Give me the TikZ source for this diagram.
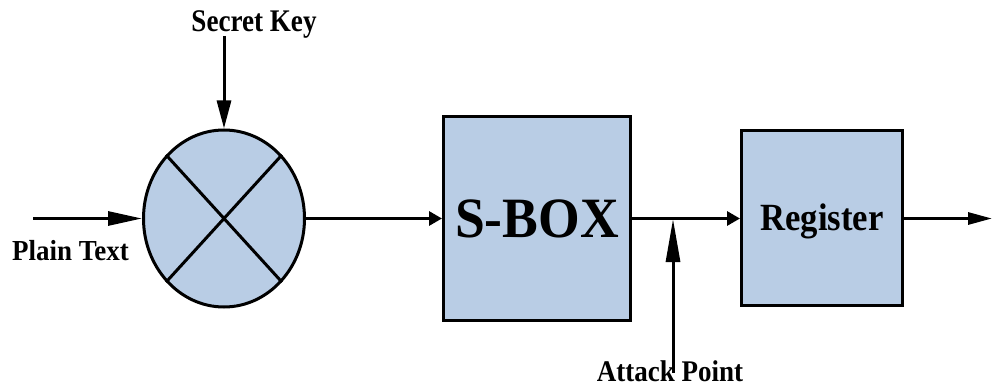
\documentclass[tikz,border=0pt]{standalone}
\usepackage{graphicx}
\usepackage{fontspec}
\setmainfont{Liberation Serif}
\usetikzlibrary{arrows.meta,shapes.geometric}
\definecolor{boxfill}{RGB}{185,205,229}
\begin{document}
\begin{tikzpicture}[x=1pt,y=-1pt,line width=3pt,
  blk/.style={draw=black,fill=boxfill,rectangle,inner sep=0pt,text depth=0pt},
  lbl/.style={font=\bfseries\fontsize{#1}{#1}\selectfont,inner sep=0pt,anchor=base},
  bigtip/.style={-{Triangle[length=#1,width=14pt]}}]
\useasboundingbox (0,0) rectangle (992,387);

% XOR-style mixer
\node[ellipse,draw=black,fill=boxfill,minimum width=161pt,minimum height=177pt,inner sep=0pt] (mix) at (224,218.5) {};
\draw (mix.north east) -- (mix.south west);
\draw (mix.north west) -- (mix.south east);

% blocks
\node[blk,minimum width=187pt,minimum height=204pt,text height=38pt,
      font=\bfseries\fontsize{57}{60}\selectfont] (sbox) at (537,218.5) {\scalebox{0.94}[1]{S-BOX}};
\node[blk,minimum width=161pt,minimum height=175pt,text height=25.5pt,
      font=\bfseries\fontsize{38.5}{42}\selectfont] (reg) at (822,218) {\scalebox{0.9}[1]{Register}};

% labels
\node[lbl=31.5] (key) at (254,31.5) {\scalebox{0.86}[1]{Secret Key}};
\node[lbl=29] (plain) at (70.5,260) {\scalebox{0.93}[1]{Plain Text}};
\node[lbl=30] (attack) at (670,381.5) {\scalebox{0.9}[1]{Attack Point}};

% free ends of the connectors
\coordinate (pin) at (33,218.5);
\coordinate (kin) at (224,36);
\coordinate (ain) at (673,373);
\coordinate (tap) at (673,219);
\coordinate (out) at (992,218.5);

% connectors
\draw[bigtip=34pt] (pin) -- (mix.west);
\draw[bigtip=28pt] (kin) -- (mix.north);
\draw[bigtip=13pt] (mix.east) -- (sbox.west);
\draw[bigtip=13pt] (sbox.east) -- (sbox.east -| reg.west);
\draw[bigtip=43pt] (ain) -- (tap);
\draw[-{Triangle[length=24pt,width=12pt]}] (reg.east |- out) -- (out);
\end{tikzpicture}
\end{document}
